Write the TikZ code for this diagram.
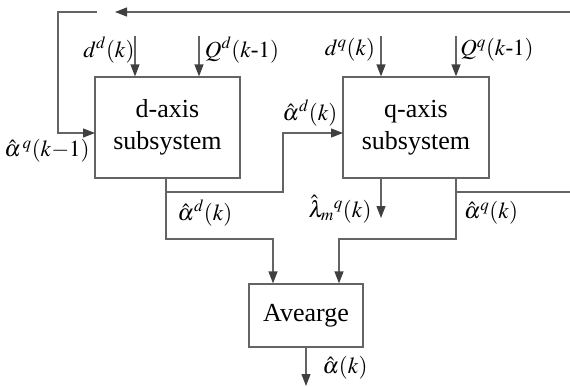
\documentclass[tikz,border=0pt]{standalone}
\usepackage{mathptmx}
\usepackage{fontspec}
\setmainfont{Liberation Serif}
\usetikzlibrary{arrows.meta}
\definecolor{ln}{RGB}{100,100,100}
\definecolor{tip}{RGB}{64,64,64}
\begin{document}
\begin{tikzpicture}[x=1pt,y=-1pt,
  blk/.style={draw=ln,line width=1.2pt,align=center,inner sep=0pt,
    font=\fontsize{26}{32}\selectfont},
  wire/.style={draw=ln,line width=1.2pt},
  arr/.style={wire,-{Triangle[length=12pt,width=9pt,color=tip]}},
  lbl/.style={inner sep=0pt,font=\fontsize{23}{26}\selectfont}]
\useasboundingbox (0,0) rectangle (570,386);
% blocks
\node[blk,minimum width=145pt,minimum height=101pt] (dbox) at (167.5,127.5) {d-axis\\subsystem};
\node[blk,minimum width=146pt,minimum height=101pt] (qbox) at (416,127.5) {q-axis\\subsystem};
\node[blk,minimum width=114pt,minimum height=63pt] (avg) at (306,315.5) {Avearge};
% coordinates
\coordinate (dd1) at (135,36);
\coordinate (dd2) at (199,36);
\coordinate (qd1) at (381,36);
\coordinate (qd2) at (456,36);
\coordinate (fbR) at (570,12);
\coordinate (fbT) at (115,12);
\coordinate (fbL) at (97,12);
\coordinate (fbC) at (58,12);
\coordinate (fbIn) at (95,133);
\coordinate (dout) at (166,178);
\coordinate (dturn) at (273,239);
\coordinate (dbr) at (166,192);
\coordinate (dup) at (283,133);
\coordinate (qin) at (343,133);
\coordinate (lamS) at (381,178);
\coordinate (lamE) at (381,218);
\coordinate (qout) at (456,178);
\coordinate (qturn) at (339,239);
\coordinate (qbr) at (456,192);
\coordinate (qfb) at (570,192);
\coordinate (aout) at (306,347);
\coordinate (aend) at (306,386);
% inputs
\draw[arr] (dd1) -- (dd1 |- dbox.north);
\draw[arr] (dd2) -- (dd2 |- dbox.north);
\draw[arr] (qd1) -- (qd1 |- qbox.north);
\draw[arr] (qd2) -- (qd2 |- qbox.north);
% feedback
\draw[arr] (fbR) -- (fbT);
\draw[arr] (fbL) -- (fbC) -- (fbC |- fbIn) -- (fbIn);
% d output
\draw[arr] (dout) |- (dturn) -- (dturn |- avg.north);
\draw[arr] (dbr) -| (dup) -- (qin);
% q outputs
\draw[arr] (lamS) -- (lamE);
\draw[arr] (qout) |- (qturn) -- (qturn |- avg.north);
\draw[wire] (qbr) -- (qfb);
% avg output
\draw[arr] (aout) -- (aend);
% labels
\node[lbl] (l1) at (109,50) {$d^{d}(k)$};
\node[lbl] (l2) at (242,50) {$Q^{d}(k\mbox{-}1)$};
\node[lbl] (l3) at (350,50) {$d^{q}(k)$};
\node[lbl] (l4) at (497,50) {$Q^{q}(k\mbox{-}1)$};
\node[lbl] (l5) at (47,151) {$\hat{\alpha}^{\,q}(k{-}1)$};
\node[lbl] (l6) at (310,113) {$\hat{\alpha}^{d}(k)$};
\node[lbl] (l7) at (205,213) {$\hat{\alpha}^{d}(k)$};
\node[lbl] (l8) at (340,209) {$\hat{\lambda}_{m}{}^{q}(k)$};
\node[lbl] (l9) at (491,213) {$\hat{\alpha}^{q}(k)$};
\node[lbl] (l10) at (345,368) {$\hat{\alpha}(k)$};
\end{tikzpicture}
\end{document}
